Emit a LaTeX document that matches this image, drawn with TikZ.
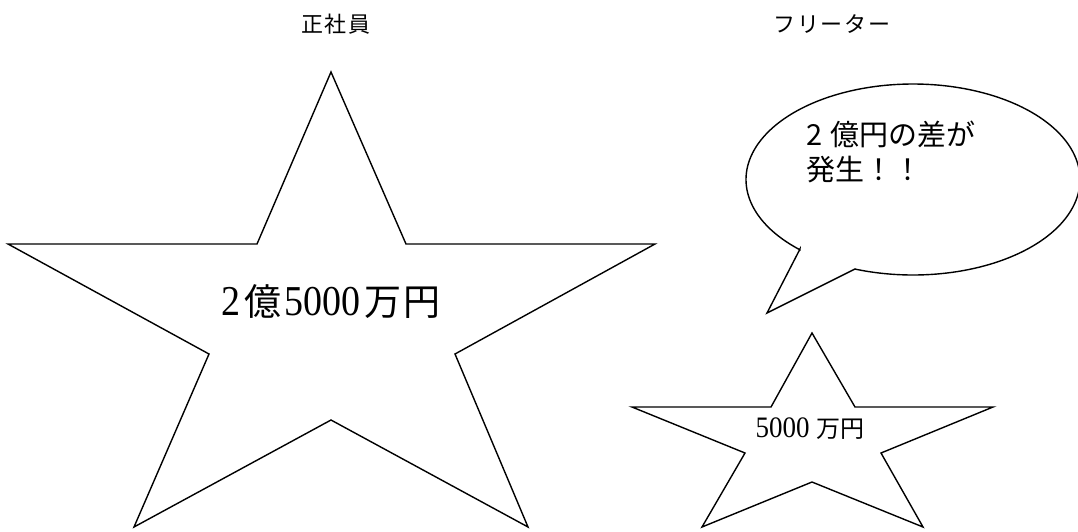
\documentclass[tikz,border=0pt]{standalone}
\usepackage{fontspec}
\newfontfamily\jp{Noto Sans CJK JP}
\newfontfamily\jpsp[LetterSpace=8]{Noto Sans CJK JP}
\newfontfamily\ser{Liberation Serif}
\tikzset{
  shapeline/.style={draw=black, line width=1.4pt, line join=miter, fill=white},
  title/.style={inner sep=0pt, font=\jpsp\fontsize{22}{22}\selectfont},
  bubbletext/.style={inner sep=0pt, anchor=west, font=\jp\fontsize{29}{29}\selectfont},
}
\begin{document}
\begin{tikzpicture}[x=1pt,y=-1pt]
\useasboundingbox (0,0) rectangle (1078,531);
% titles
\node[title] (t1) at (336,24) {正社員};
\node[title] (t2) at (832,24) {フリーター};
% big star
\draw[shapeline] (331,72) -- (406,244) -- (655,244) -- (455,354) -- (528,527)
  -- (331,420) -- (134,527) -- (209,354) -- (8,244) -- (257,244) -- cycle;
\node[inner sep=0pt] (big) at (331,302) {\jp\fontsize{37}{37}\selectfont
  \scalebox{1}[1.12]{\ser\fontsize{38}{38}\selectfont 2}\hspace{4pt}億\hspace{3pt}\scalebox{1}[1.12]{\ser\fontsize{38}{38}\selectfont 5000}\hspace{4pt}万\hspace{2pt}円};
% small star
\draw[shapeline] (812,333) -- (855,407) -- (993,407) -- (881,453) -- (923,527)
  -- (812,482) -- (702,527) -- (745,453) -- (632,407) -- (771,407) -- cycle;
\node[inner sep=0pt] (small) at (810,429) {\jp\fontsize{24}{24}\selectfont
  \scalebox{1}[1.1]{\ser\fontsize{27}{27}\selectfont 5000}\hspace{7pt}万円};
% callout
\draw[shapeline] (855,269) -- (767,313) -- (800,249)
  -- plot[domain=132.6:470.3, samples=240] ({913+167*cos(\x)}, {179.5+95.5*sin(\x)})
  -- cycle;
\node[bubbletext] (b1) at (806,134) {2\hspace{8pt}億円の差が};
\node[bubbletext] (b2) at (806,170) {発生！！};
\end{tikzpicture}
\end{document}
